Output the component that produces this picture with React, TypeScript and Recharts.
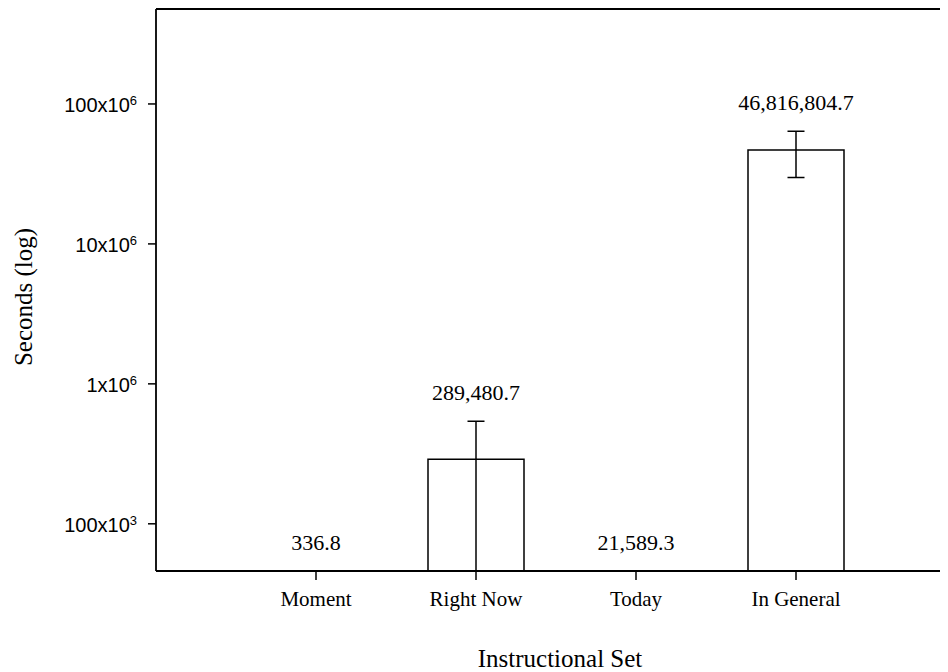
import {
  Bar,
  BarChart,
  ErrorBar,
  Label,
  LabelList,
  ReferenceLine,
  XAxis,
  YAxis,
} from "recharts";

// values (mean seconds per instructional set)
const categories = ["Moment", "Right Now", "Today", "In General"];
const seconds = [336.8, 289480.7, 21589.3, 46816804.7];
// error bar extents below / above the mean; Right Now's lower whisker runs down to the axis floor
const errorsBelow = [0, 243500, 0, 17000000];
const errorsAbove = [0, 251000, 0, 17000000];

// log axis ticks, written as mantissa x 10^exponent
const yTicks = [1e5, 1e6, 1e7, 1e8];
const yTickMantissa = ["100x10", "1x10", "10x10", "100x10"];
const yTickExponent = ["3", "6", "6", "6"];

const Y_MIN = 46000;
const Y_MAX = 477000000;

const SERIF = "'Liberation Serif', 'Times New Roman', serif";
const SANS = "'Liberation Sans', Arial, sans-serif";

const data = categories.map((name, i) => ({
  name,
  seconds: seconds[i],
  // no visible whisker for the bars below the axis floor
  err: errorsAbove[i] > 0 ? [errorsBelow[i], errorsAbove[i]] : 0,
}));

function YTick(props: any) {
  const { x, y, payload } = props;
  const i = yTicks.indexOf(payload.value);
  return (
    <text x={x} y={y} dy={8} textAnchor="end" fontFamily={SANS} fontSize={20} fill="#000">
      <tspan>{yTickMantissa[i]}</tspan>
      <tspan dy={-7} fontSize={13}>
        {yTickExponent[i]}
      </tspan>
    </text>
  );
}

// label sits just above the error bar; bars below the axis floor get it above the baseline
function ValueLabel(props: any) {
  const vb = props.viewBox ?? props;
  const { x, y, width, height } = vb;
  const i = props.index;
  const value = seconds[i];
  const top = Math.min(y, y + height);
  const bottom = Math.max(y, y + height);
  let anchorY: number;
  if (value < Y_MIN) {
    anchorY = top;
  } else {
    const pxPerDecade = (bottom - top) / (Math.log10(value) - Math.log10(Y_MIN));
    anchorY = top - (Math.log10(value + errorsAbove[i]) - Math.log10(value)) * pxPerDecade;
  }
  const text = value.toLocaleString("en-US", {
    minimumFractionDigits: 1,
    maximumFractionDigits: 1,
  });
  return (
    <text x={x + width / 2} y={anchorY - 21} textAnchor="middle" fontFamily={SERIF} fontSize={22} fill="#000">
      {text}
    </text>
  );
}

export default function App() {
  return (
    <div style={{ width: 940, height: 664, overflow: "hidden" }}>
      <BarChart
        width={956}
        height={664}
        data={data}
        margin={{ top: 1, right: 0, bottom: 0, left: 0 }}
      >
        <XAxis
          dataKey="name"
          height={101}
          padding={{ left: 80, right: 88 }}
          interval={0}
          tickSize={9}
          tickMargin={11}
          axisLine={{ stroke: "#000", strokeWidth: 1.8 }}
          tickLine={{ stroke: "#000", strokeWidth: 1.5 }}
          tick={{ fontFamily: SERIF, fontSize: 21, fill: "#000" }}
        >
          <Label
            content={({ viewBox }: any) => (
              <text
                x={viewBox.x + viewBox.width / 2}
                y={viewBox.y + 96}
                textAnchor="middle"
                fontFamily={SERIF}
                fontSize={25}
                fill="#000"
              >
                Instructional Set
              </text>
            )}
          />
        </XAxis>
        <YAxis
          scale="log"
          domain={[Y_MIN, Y_MAX]}
          allowDataOverflow
          ticks={yTicks}
          interval={0}
          width={148}
          tickSize={8}
          tickMargin={11}
          axisLine={{ stroke: "#000", strokeWidth: 1.8 }}
          tickLine={{ stroke: "#000", strokeWidth: 1.5 }}
          tick={<YTick />}
        >
          <Label
            content={({ viewBox }: any) => {
              const cx = viewBox.x + 15;
              const cy = viewBox.y + viewBox.height / 2 + 7;
              return (
                <text
                  x={cx}
                  y={cy}
                  transform={`rotate(-90, ${cx}, ${cy})`}
                  textAnchor="middle"
                  dominantBaseline="central"
                  fontFamily={SERIF}
                  fontSize={25}
                  fill="#000"
                >
                  Seconds (log)
                </text>
              );
            }}
          />
        </YAxis>
        <ReferenceLine y={Y_MAX} stroke="#000" strokeWidth={1.8} />
        <Bar
          dataKey="seconds"
          barSize={96}
          fill="#fff"
          stroke="#000"
          strokeWidth={1.5}
          isAnimationActive={false}
        >
          <ErrorBar
            dataKey="err"
            width={8.5}
            stroke="#000"
            strokeWidth={1.5}
            isAnimationActive={false}
          />
          <LabelList dataKey="seconds" content={<ValueLabel />} />
        </Bar>
      </BarChart>
    </div>
  );
}
